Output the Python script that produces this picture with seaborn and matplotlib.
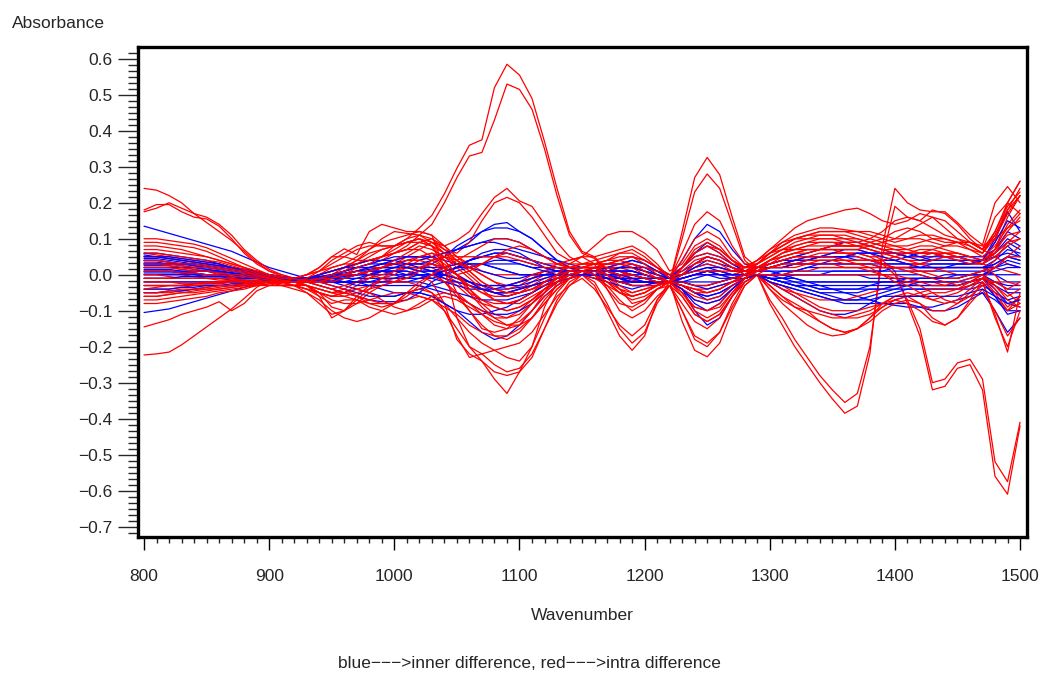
import pandas as pd
import numpy as np
import seaborn as sns
import matplotlib
matplotlib.use("Agg")
import matplotlib.pyplot as plt
from matplotlib.ticker import MultipleLocator, AutoMinorLocator

# Wavenumber grid (every 10 units, 800 .. 1500)
wavenumber = list(range(800, 1501, 10))

# ---- red curves (intra difference) ----
red_01 = [0.04, 0.04, 0.035, 0.03, 0.03, 0.025, 0.02, 0.015, 0.01, 0.0,
          -0.01, -0.02, -0.02, -0.01, 0.0, 0.01, 0.02, 0.03, 0.04, 0.05,
          0.08, 0.1, 0.13, 0.165, 0.225, 0.296, 0.36, 0.375, 0.52, 0.585,
          0.555, 0.49, 0.37, 0.24, 0.12, 0.065, 0.05, 0.012, 0.0, -0.01,
          -0.01, -0.02, -0.02, 0.12, 0.27, 0.326, 0.278, 0.16, 0.05, 0.02,
          0.03, 0.04, 0.05, 0.06, 0.07, 0.08, 0.08, 0.08, 0.07, 0.06,
          0.05, 0.04, 0.04, 0.05, 0.06, 0.06, 0.05, 0.04, 0.09, 0.2,
          0.26]
red_02 = [0.02, 0.02, 0.02, 0.015, 0.01, 0.01, 0.005, 0.0, -0.005, -0.01,
          -0.02, -0.03, -0.03, -0.02, -0.01, 0.0, 0.01, 0.02, 0.03, 0.04,
          0.06, 0.08, 0.11, 0.14, 0.2, 0.27, 0.33, 0.34, 0.43, 0.53,
          0.515, 0.46, 0.35, 0.22, 0.11, 0.06, 0.045, 0.01, -0.005, -0.015,
          -0.02, -0.025, -0.02, 0.1, 0.23, 0.28, 0.24, 0.14, 0.04, 0.01,
          0.02, 0.03, 0.04, 0.05, 0.05, 0.06, 0.06, 0.06, 0.05, 0.05,
          0.04, 0.03, 0.03, 0.04, 0.05, 0.04, 0.04, 0.03, 0.07, 0.16,
          0.22]
red_03 = [-0.02, -0.02, -0.02, -0.02, -0.02, -0.02, -0.02, -0.02, -0.02, -0.02,
          -0.02, -0.02, -0.02, -0.03, -0.04, -0.05, -0.04, -0.02, 0.0, 0.02,
          0.03, 0.03, 0.03, 0.02, 0.0, -0.02, -0.05, -0.07, -0.08, -0.08,
          -0.07, -0.05, -0.03, -0.01, 0.0, 0.01, 0.02, 0.01, 0.0, 0.0,
          -0.01, -0.02, -0.02, -0.02, -0.03, -0.03, -0.02, -0.01, 0.0, 0.0,
          -0.08, -0.14, -0.2, -0.25, -0.3, -0.345, -0.385, -0.365, -0.22, 0.08,
          0.24, 0.2, 0.18, 0.175, 0.175, 0.145, 0.11, 0.083, 0.2, 0.245,
          0.2]
red_04 = [-0.04, -0.04, -0.04, -0.035, -0.03, -0.03, -0.03, -0.03, -0.03, -0.025,
          -0.02, -0.02, -0.03, -0.04, -0.05, -0.06, -0.05, -0.03, -0.01, 0.01,
          0.02, 0.02, 0.02, 0.01, -0.01, -0.03, -0.06, -0.08, -0.09, -0.1,
          -0.09, -0.07, -0.04, -0.02, -0.01, 0.0, 0.01, 0.0, -0.01, -0.02,
          -0.02, -0.02, -0.02, -0.03, -0.04, -0.04, -0.03, -0.02, -0.01, 0.0,
          -0.07, -0.12, -0.18, -0.23, -0.28, -0.32, -0.355, -0.33, -0.2, 0.05,
          0.19, 0.16, 0.15, 0.18, 0.17, 0.14, 0.1, 0.07, 0.16, 0.2,
          0.17]
red_05 = [-0.06, -0.06, -0.055, -0.05, -0.05, -0.045, -0.04, -0.035, -0.03, -0.025,
          -0.02, -0.02, -0.02, -0.03, -0.05, -0.07, -0.08, -0.08, -0.07, -0.06,
          -0.05, -0.05, -0.06, -0.07, -0.09, -0.11, -0.14, -0.16, -0.17, -0.17,
          -0.15, -0.12, -0.08, -0.04, -0.01, 0.0, 0.02, 0.01, -0.01, -0.03,
          -0.03, -0.03, -0.02, -0.01, 0.0, 0.01, 0.0, -0.01, 0.0, 0.02,
          0.04, 0.05, 0.06, 0.07, 0.07, 0.07, 0.07, 0.07, 0.06, 0.04,
          0.01, -0.08, -0.17, -0.32, -0.31, -0.26, -0.25, -0.32, -0.56, -0.61,
          -0.42]
red_06 = [0.0, 0.0, 0.0, 0.0, -0.005, -0.01, -0.01, -0.01, -0.015, -0.02,
          -0.02, -0.03, -0.03, -0.02, -0.01, 0.0, 0.0, 0.01, 0.02, 0.03,
          0.04, 0.05, 0.05, 0.04, 0.02, 0.0, -0.02, -0.04, -0.05, -0.05,
          -0.04, -0.03, -0.02, -0.01, 0.0, 0.01, 0.02, 0.02, 0.01, 0.0,
          -0.01, -0.02, -0.02, -0.01, 0.0, 0.0, 0.0, 0.0, 0.01, 0.02,
          0.03, 0.04, 0.05, 0.05, 0.06, 0.06, 0.06, 0.06, 0.05, 0.03,
          0.0, -0.07, -0.15, -0.3, -0.29, -0.245, -0.235, -0.29, -0.52, -0.575,
          -0.41]
red_07 = [0.24, 0.235, 0.22, 0.2, 0.17, 0.145, 0.12, 0.095, 0.065, 0.035,
          0.01, 0.0, -0.01, -0.01, 0.0, 0.01, 0.02, 0.03, 0.04, 0.05,
          0.06, 0.07, 0.09, 0.1, 0.08, 0.05, 0.03, 0.01, 0.0, 0.0,
          0.0, 0.0, 0.0, 0.01, 0.02, 0.02, 0.03, 0.03, 0.03, 0.02,
          0.01, 0.0, -0.01, 0.0, 0.02, 0.03, 0.02, 0.01, 0.02, 0.03,
          0.05, 0.07, 0.09, 0.1, 0.11, 0.11, 0.11, 0.1, 0.09, 0.08,
          0.07, 0.06, 0.06, 0.07, 0.08, 0.09, 0.09, 0.08, 0.1, 0.13,
          0.15]
red_08 = [0.18, 0.195, 0.195, 0.175, 0.16, 0.155, 0.135, 0.1, 0.06, 0.03,
          0.01, -0.005, -0.01, -0.01, -0.01, 0.0, 0.0, 0.01, 0.02, 0.02,
          0.03, 0.04, 0.05, 0.06, 0.05, 0.03, 0.0, -0.03, -0.05, -0.06,
          -0.05, -0.03, -0.01, 0.0, 0.01, 0.01, 0.02, 0.02, 0.01, -0.01,
          -0.02, -0.02, -0.02, 0.02, 0.07, 0.09, 0.07, 0.04, 0.02, 0.02,
          0.04, 0.06, 0.08, 0.09, 0.1, 0.1, 0.1, 0.09, 0.08, 0.07,
          0.06, 0.05, 0.05, 0.06, 0.06, 0.05, 0.04, 0.03, 0.07, 0.14,
          0.18]
red_09 = [0.175, 0.185, 0.2, 0.185, 0.17, 0.16, 0.14, 0.11, 0.07, 0.04,
          0.015, 0.0, -0.01, -0.015, -0.02, -0.02, -0.01, 0.0, 0.01, 0.02,
          0.03, 0.05, 0.07, 0.09, 0.07, 0.04, 0.01, -0.02, -0.04, -0.05,
          -0.04, -0.02, 0.0, 0.01, 0.01, 0.02, 0.02, 0.02, 0.02, 0.01,
          0.0, -0.01, -0.02, -0.01, 0.0, 0.01, 0.01, 0.0, 0.01, 0.03,
          0.06, 0.08, 0.1, 0.11, 0.12, 0.12, 0.12, 0.12, 0.11, 0.1,
          0.09, 0.1, 0.11, 0.11, 0.1, 0.09, 0.08, 0.06, 0.1, 0.17,
          0.22]
red_10 = [-0.223, -0.22, -0.215, -0.195, -0.17, -0.145, -0.12, -0.095, -0.066, -0.035,
          -0.015, -0.01, -0.01, -0.02, -0.03, -0.04, -0.03, -0.02, -0.01, 0.0,
          0.01, 0.02, 0.02, 0.01, -0.02, -0.06, -0.1, -0.14, -0.17, -0.18,
          -0.16, -0.12, -0.07, -0.03, 0.0, 0.01, 0.01, -0.01, -0.04, -0.06,
          -0.05, -0.03, -0.02, -0.04, -0.07, -0.08, -0.07, -0.04, -0.01, 0.0,
          -0.02, -0.04, -0.05, -0.06, -0.07, -0.07, -0.07, -0.06, -0.05, -0.04,
          -0.03, -0.02, -0.02, -0.02, -0.03, -0.03, -0.02, 0.0, -0.03, -0.07,
          -0.09]
red_11 = [-0.145, -0.135, -0.125, -0.11, -0.1, -0.09, -0.075, -0.1, -0.08, -0.045,
          -0.03, -0.02, -0.02, -0.03, -0.06, -0.12, -0.1, -0.06, -0.03, -0.01,
          0.0, 0.02, 0.04, 0.05, 0.03, 0.0, -0.04, -0.08, -0.11, -0.12,
          -0.1, -0.07, -0.04, -0.02, 0.0, 0.01, 0.0, -0.03, -0.07, -0.1,
          -0.08, -0.04, -0.02, -0.05, -0.1, -0.12, -0.1, -0.05, -0.01, 0.0,
          -0.03, -0.06, -0.09, -0.11, -0.13, -0.15, -0.16, -0.15, -0.12, -0.08,
          -0.06, -0.06, -0.08, -0.12, -0.14, -0.12, -0.08, -0.04, -0.1, -0.17,
          -0.12]
red_12 = [0.06, 0.055, 0.05, 0.045, 0.04, 0.035, 0.03, 0.02, 0.01, 0.0,
          -0.01, -0.02, -0.02, -0.01, 0.0, 0.01, 0.02, 0.04, 0.06, 0.07,
          0.08, 0.1, 0.11, 0.09, 0.08, 0.095, 0.12, 0.17, 0.215, 0.24,
          0.205, 0.19, 0.14, 0.09, 0.05, 0.03, 0.03, 0.04, 0.06, 0.07,
          0.05, 0.02, -0.01, 0.06, 0.14, 0.175, 0.15, 0.08, 0.03, 0.03,
          0.06, 0.09, 0.11, 0.12, 0.13, 0.13, 0.125, 0.12, 0.12, 0.11,
          0.1, 0.12, 0.14, 0.16, 0.15, 0.12, 0.09, 0.07, 0.11, 0.18,
          0.24]
red_13 = [0.09, 0.09, 0.085, 0.08, 0.075, 0.065, 0.05, 0.035, 0.02, 0.005,
          -0.01, -0.015, -0.02, -0.02, -0.01, 0.0, 0.02, 0.04, 0.07, 0.1,
          0.12, 0.115, 0.11, 0.1, 0.07, 0.06, 0.09, 0.15, 0.2, 0.215,
          0.2, 0.16, 0.11, 0.06, 0.04, 0.05, 0.08, 0.11, 0.12, 0.12,
          0.1, 0.07, 0.01, 0.03, 0.08, 0.1, 0.08, 0.04, 0.02, 0.04,
          0.07, 0.1, 0.13, 0.15, 0.16, 0.17, 0.18, 0.185, 0.17, 0.15,
          0.14, 0.15, 0.17, 0.16, 0.13, 0.1, 0.08, 0.06, 0.12, 0.2,
          0.26]
red_14 = [-0.07, -0.07, -0.065, -0.06, -0.055, -0.05, -0.045, -0.04, -0.035, -0.03,
          -0.025, -0.02, -0.02, -0.03, -0.05, -0.06, -0.05, -0.04, -0.03, -0.02,
          -0.01, 0.0, 0.0, -0.02, -0.08, -0.18, -0.22, -0.24, -0.29, -0.33,
          -0.27, -0.2, -0.09, -0.02, 0.01, 0.02, 0.02, 0.0, -0.04, -0.08,
          -0.07, -0.04, -0.03, -0.1, -0.18, -0.2, -0.16, -0.08, -0.02, 0.0,
          -0.04, -0.07, -0.09, -0.1, -0.11, -0.12, -0.12, -0.11, -0.1, -0.08,
          -0.06, -0.05, -0.06, -0.07, -0.06, -0.05, -0.03, -0.01, -0.06, -0.1,
          -0.08]
red_15 = [-0.05, -0.05, -0.05, -0.045, -0.04, -0.04, -0.035, -0.03, -0.03, -0.025,
          -0.02, -0.02, -0.02, -0.02, -0.03, -0.04, -0.05, -0.06, -0.07, -0.08,
          -0.08, -0.07, -0.06, -0.07, -0.1, -0.15, -0.2, -0.24, -0.27, -0.28,
          -0.27, -0.23, -0.15, -0.07, -0.02, 0.0, -0.03, -0.1, -0.17, -0.21,
          -0.17, -0.07, -0.02, -0.13, -0.21, -0.228, -0.19, -0.1, -0.03, 0.0,
          -0.03, -0.06, -0.08, -0.1, -0.13, -0.15, -0.16, -0.15, -0.13, -0.1,
          -0.08, -0.07, -0.08, -0.1, -0.1, -0.08, -0.05, -0.02, -0.12, -0.2,
          -0.1]
red_16 = [0.03, 0.03, 0.025, 0.02, 0.015, 0.01, 0.0, -0.01, -0.02, -0.025,
          -0.03, -0.03, -0.03, -0.03, -0.05, -0.09, -0.1, -0.08, -0.05, -0.03,
          -0.02, -0.02, -0.03, -0.05, -0.1, -0.17, -0.23, -0.22, -0.25, -0.27,
          -0.26, -0.22, -0.15, -0.08, -0.03, 0.0, -0.02, -0.08, -0.15, -0.19,
          -0.16, -0.08, -0.03, -0.1, -0.17, -0.19, -0.16, -0.09, -0.03, 0.0,
          -0.02, -0.03, -0.05, -0.07, -0.09, -0.1, -0.1, -0.1, -0.09, -0.08,
          -0.07, -0.08, -0.1, -0.13, -0.14, -0.12, -0.07, -0.02, -0.11, -0.215,
          -0.05]
red_17 = [-0.03, -0.03, -0.03, -0.03, -0.03, -0.03, -0.03, -0.03, -0.03, -0.03,
          -0.03, -0.03, -0.04, -0.05, -0.07, -0.1, -0.12, -0.13, -0.12, -0.1,
          -0.08, -0.05, -0.04, -0.05, -0.08, -0.12, -0.16, -0.19, -0.21, -0.2,
          -0.19, -0.16, -0.11, -0.06, -0.03, -0.01, -0.04, -0.09, -0.14, -0.17,
          -0.14, -0.07, -0.03, -0.06, -0.11, -0.13, -0.11, -0.06, -0.02, 0.0,
          0.0, 0.0, 0.01, 0.01, 0.02, 0.02, 0.02, 0.02, 0.02, 0.02,
          0.02, 0.02, 0.01, 0.01, 0.02, 0.02, 0.02, 0.02, 0.0, -0.05,
          -0.08]
red_18 = [0.05, 0.05, 0.045, 0.04, 0.035, 0.03, 0.025, 0.02, 0.015, 0.01,
          0.0, -0.01, -0.01, 0.0, 0.02, 0.05, 0.072, 0.056, 0.12, 0.14,
          0.13, 0.12, 0.12, 0.11, 0.08, 0.05, 0.02, 0.0, -0.02, -0.03,
          -0.02, 0.0, 0.01, 0.02, 0.02, 0.02, 0.02, 0.03, 0.04, 0.05,
          0.04, 0.02, 0.0, 0.02, 0.05, 0.06, 0.05, 0.03, 0.02, 0.03,
          0.06, 0.08, 0.1, 0.1, 0.1, 0.1, 0.09, 0.09, 0.1, 0.12,
          0.15, 0.16, 0.15, 0.13, 0.11, 0.1, 0.09, 0.07, 0.05, 0.03,
          0.02]
red_19 = [0.0, 0.0, -0.005, -0.01, -0.01, -0.01, -0.01, -0.01, -0.015, -0.02,
          -0.02, -0.02, -0.01, 0.0, 0.01, 0.02, 0.03, 0.05, 0.07, 0.09,
          0.1, 0.11, 0.12, 0.11, 0.02, -0.12, -0.2, -0.22, -0.21, -0.23,
          -0.24, -0.2, -0.12, -0.05, -0.01, 0.01, 0.0, -0.02, -0.05, -0.07,
          -0.06, -0.04, -0.02, -0.05, -0.09, -0.1, -0.08, -0.04, -0.01, 0.0,
          0.02, 0.03, 0.04, 0.04, 0.04, 0.04, 0.04, 0.04, 0.04, 0.04,
          0.05, 0.06, 0.06, 0.06, 0.05, 0.04, 0.03, 0.03, 0.02, 0.01,
          0.0]
red_20 = [0.07, 0.07, 0.065, 0.06, 0.055, 0.05, 0.04, 0.03, 0.02, 0.01,
          0.0, -0.01, -0.01, -0.01, 0.0, 0.02, 0.03, 0.03, 0.04, 0.05,
          0.06, 0.07, 0.09, 0.08, 0.06, 0.04, 0.02, 0.0, -0.02, -0.04,
          -0.03, -0.01, 0.01, 0.03, 0.04, 0.05, 0.05, 0.06, 0.07, 0.08,
          0.06, 0.03, -0.01, 0.04, 0.1, 0.12, 0.1, 0.05, 0.02, 0.03,
          0.05, 0.07, 0.08, 0.09, 0.09, 0.09, 0.08, 0.08, 0.07, 0.06,
          0.05, 0.04, 0.03, 0.02, 0.01, 0.0, 0.0, 0.01, 0.04, 0.09,
          0.12]
red_21 = [-0.08, -0.08, -0.075, -0.07, -0.065, -0.06, -0.05, -0.045, -0.04, -0.03,
          -0.025, -0.02, -0.02, -0.03, -0.04, -0.05, -0.05, -0.04, -0.05, -0.07,
          -0.09, -0.1, -0.09, -0.07, -0.06, -0.07, -0.09, -0.11, -0.13, -0.14,
          -0.13, -0.1, -0.06, -0.03, -0.01, 0.0, -0.01, -0.03, -0.05, -0.06,
          -0.05, -0.03, -0.02, -0.04, -0.06, -0.07, -0.06, -0.03, -0.01, 0.0,
          -0.04, -0.08, -0.11, -0.14, -0.16, -0.17, -0.165, -0.15, -0.12, -0.09,
          -0.07, -0.06, -0.06, -0.05, -0.05, -0.04, -0.02, 0.0, -0.04, -0.09,
          -0.06]
red_22 = [0.02, 0.02, 0.02, 0.015, 0.01, 0.01, 0.005, 0.0, 0.0, -0.005,
          -0.01, -0.015, -0.02, -0.02, -0.02, -0.01, 0.0, 0.0, 0.01, 0.02,
          0.04, 0.06, 0.08, 0.07, 0.05, 0.02, -0.01, -0.04, -0.07, -0.08,
          -0.07, -0.05, -0.02, 0.0, 0.01, 0.02, 0.03, 0.02, 0.01, 0.0,
          -0.01, -0.02, -0.02, -0.03, -0.05, -0.05, -0.04, -0.02, 0.0, 0.02,
          0.04, 0.05, 0.06, 0.07, 0.07, 0.08, 0.08, 0.08, 0.09, 0.1,
          0.12, 0.13, 0.12, 0.1, 0.09, 0.09, 0.09, 0.07, 0.12, 0.19,
          0.23]
red_23 = [-0.04, -0.035, -0.03, -0.03, -0.025, -0.02, -0.02, -0.015, -0.015, -0.015,
          -0.02, -0.025, -0.03, -0.04, -0.05, -0.06, -0.06, -0.05, -0.04, -0.03,
          -0.02, 0.0, 0.02, 0.03, 0.02, 0.0, -0.03, -0.05, -0.07, -0.08,
          -0.08, -0.06, -0.04, -0.02, 0.0, 0.01, 0.0, -0.02, -0.04, -0.05,
          -0.04, -0.03, -0.02, -0.03, -0.04, -0.05, -0.04, -0.02, -0.01, 0.0,
          -0.02, -0.04, -0.06, -0.08, -0.1, -0.11, -0.12, -0.12, -0.11, -0.09,
          -0.07, -0.06, -0.05, -0.04, -0.04, -0.04, -0.03, -0.01, -0.05, -0.1,
          -0.06]
red_24 = [0.06, 0.06, 0.055, 0.05, 0.045, 0.04, 0.035, 0.025, 0.015, 0.005,
          -0.005, -0.015, -0.02, -0.015, -0.01, -0.01, 0.0, 0.02, 0.03, 0.05,
          0.07, 0.09, 0.1, 0.08, 0.04, 0.0, -0.04, -0.07, -0.09, -0.1,
          -0.09, -0.07, -0.04, -0.01, 0.01, 0.02, 0.02, 0.0, -0.03, -0.05,
          -0.04, -0.03, -0.02, -0.05, -0.09, -0.1, -0.09, -0.05, -0.01, 0.01,
          0.02, 0.03, 0.03, 0.03, 0.04, 0.04, 0.03, 0.03, 0.03, 0.02,
          0.02, 0.01, 0.01, 0.0, -0.01, -0.01, 0.0, 0.01, 0.02, 0.05,
          0.08]
red_25 = [-0.01, -0.01, -0.01, -0.01, -0.01, -0.01, -0.015, -0.015, -0.02, -0.02,
          -0.02, -0.02, -0.02, -0.02, -0.02, -0.01, 0.0, 0.01, 0.0, -0.01,
          -0.02, -0.01, 0.01, 0.04, 0.05, 0.04, 0.01, -0.02, -0.04, -0.05,
          -0.05, -0.04, -0.03, -0.01, 0.0, 0.01, 0.02, 0.03, 0.03, 0.02,
          0.0, -0.01, -0.02, 0.0, 0.03, 0.04, 0.03, 0.01, 0.01, 0.02,
          0.03, 0.05, 0.06, 0.06, 0.07, 0.07, 0.06, 0.05, 0.04, 0.03,
          0.02, 0.02, 0.03, 0.04, 0.05, 0.05, 0.04, 0.03, 0.06, 0.12,
          0.16]
red_26 = [-0.06, -0.06, -0.055, -0.05, -0.045, -0.04, -0.04, -0.035, -0.03, -0.025,
          -0.02, -0.02, -0.02, -0.02, -0.02, -0.03, -0.04, -0.06, -0.08, -0.09,
          -0.08, -0.05, -0.02, 0.0, -0.02, -0.05, -0.08, -0.11, -0.14, -0.15,
          -0.14, -0.1, -0.05, 0.0, 0.03, 0.05, 0.03, -0.04, -0.1, -0.12,
          -0.1, -0.06, -0.03, -0.08, -0.13, -0.15, -0.12, -0.06, -0.01, 0.01,
          0.04, 0.06, 0.07, 0.08, 0.08, 0.08, 0.08, 0.08, 0.07, 0.06,
          0.06, 0.06, 0.07, 0.07, 0.06, 0.05, 0.04, 0.03, 0.05, 0.08,
          0.1]
red_27 = [0.1, 0.1, 0.095, 0.09, 0.085, 0.075, 0.06, 0.045, 0.03, 0.015,
          0.0, -0.01, -0.01, 0.0, 0.01, 0.03, 0.05, 0.07, 0.08, 0.08,
          0.08, 0.09, 0.1, 0.09, 0.06, 0.03, 0.02, 0.03, 0.05, 0.07,
          0.08, 0.07, 0.05, 0.03, 0.02, 0.02, 0.03, 0.04, 0.05, 0.05,
          0.03, 0.0, -0.02, 0.02, 0.06, 0.08, 0.06, 0.03, 0.02, 0.04,
          0.07, 0.09, 0.1, 0.11, 0.11, 0.11, 0.1, 0.1, 0.09, 0.08,
          0.08, 0.08, 0.09, 0.1, 0.1, 0.09, 0.07, 0.05, 0.08, 0.13,
          0.17]
red_28 = [-0.02, -0.02, -0.02, -0.025, -0.025, -0.025, -0.025, -0.02, -0.02, -0.02,
          -0.02, -0.02, -0.03, -0.04, -0.06, -0.08, -0.07, -0.07, -0.09, -0.1,
          -0.11, -0.1, -0.08, -0.06, -0.05, -0.06, -0.08, -0.1, -0.12, -0.12,
          -0.11, -0.08, -0.05, -0.02, 0.0, 0.01, 0.01, 0.0, -0.02, -0.03,
          -0.03, -0.03, -0.02, -0.02, -0.03, -0.03, -0.02, -0.01, 0.0, 0.01,
          0.02, 0.02, 0.02, 0.03, 0.03, 0.03, 0.02, 0.02, 0.01, 0.0,
          -0.01, -0.02, -0.03, -0.05, -0.07, -0.08, -0.06, -0.03, -0.02, -0.02,
          -0.03]
red_29 = [0.03, 0.03, 0.03, 0.025, 0.02, 0.02, 0.015, 0.01, 0.005, 0.0,
          -0.01, -0.02, -0.02, -0.02, -0.01, 0.0, 0.01, 0.03, 0.05, 0.07,
          0.08, 0.09, 0.09, 0.08, 0.06, 0.05, 0.05, 0.05, 0.05, 0.05,
          0.04, 0.03, 0.02, 0.02, 0.02, 0.03, 0.03, 0.04, 0.04, 0.03,
          0.01, -0.01, -0.02, -0.03, -0.04, -0.05, -0.04, -0.02, 0.0, 0.03,
          0.06, 0.08, 0.1, 0.11, 0.12, 0.12, 0.12, 0.11, 0.1, 0.09,
          0.08, 0.07, 0.06, 0.06, 0.06, 0.06, 0.05, 0.04, 0.06, 0.09,
          0.1]
red_30 = [-0.05, -0.05, -0.045, -0.04, -0.04, -0.035, -0.03, -0.03, -0.025, -0.02,
          -0.02, -0.02, -0.03, -0.05, -0.08, -0.11, -0.1, -0.07, -0.04, -0.01,
          0.01, 0.03, 0.05, 0.06, 0.04, 0.0, -0.05, -0.09, -0.12, -0.14,
          -0.14, -0.12, -0.08, -0.04, -0.01, 0.01, 0.0, -0.02, -0.05, -0.06,
          -0.05, -0.03, -0.02, 0.0, 0.03, 0.05, 0.04, 0.02, 0.0, 0.0,
          0.0, 0.0, 0.0, 0.0, 0.0, 0.0, 0.0, 0.0, 0.0, 0.0,
          0.0, -0.01, -0.02, -0.03, -0.03, -0.02, -0.01, 0.0, -0.03, -0.06,
          -0.04]
red_31 = [0.04, 0.04, 0.035, 0.03, 0.03, 0.025, 0.02, 0.015, 0.01, 0.0,
          -0.01, -0.02, -0.02, -0.01, 0.01, 0.04, 0.06, 0.08, 0.09, 0.08,
          0.08, 0.09, 0.1, 0.08, 0.02, -0.05, -0.1, -0.15, -0.16, -0.15,
          -0.12, -0.08, -0.04, -0.01, 0.01, 0.02, 0.02, 0.01, 0.0, 0.0,
          -0.01, -0.02, -0.02, -0.06, -0.11, -0.13, -0.11, -0.06, -0.01, 0.02,
          0.04, 0.06, 0.07, 0.08, 0.09, 0.09, 0.09, 0.08, 0.08, 0.07,
          0.07, 0.07, 0.08, 0.08, 0.07, 0.06, 0.05, 0.04, 0.07, 0.11,
          0.12]
red_32 = [-0.03, -0.03, -0.03, -0.03, -0.025, -0.025, -0.02, -0.02, -0.02, -0.02,
          -0.02, -0.02, -0.02, -0.03, -0.04, -0.05, -0.06, -0.07, -0.08, -0.08,
          -0.08, -0.06, -0.03, 0.0, 0.02, 0.04, 0.06, 0.08, 0.1, 0.1,
          0.09, 0.07, 0.05, 0.03, 0.02, 0.03, 0.04, 0.05, 0.06, 0.06,
          0.04, 0.02, -0.01, 0.01, 0.04, 0.05, 0.04, 0.02, 0.01, 0.01,
          0.02, 0.03, 0.03, 0.04, 0.04, 0.04, 0.04, 0.04, 0.04, 0.03,
          0.02, 0.01, 0.0, -0.01, -0.02, -0.03, -0.02, -0.01, -0.02, -0.04,
          -0.02]
red_33 = [0.01, 0.01, 0.01, 0.005, 0.005, 0.0, 0.0, -0.005, -0.005, -0.01,
          -0.015, -0.02, -0.02, -0.02, -0.02, -0.02, -0.01, 0.0, 0.01, 0.02,
          0.03, 0.04, 0.04, 0.03, 0.01, -0.01, -0.03, -0.05, -0.06, -0.06,
          -0.05, -0.04, -0.02, 0.0, 0.01, 0.01, 0.0, -0.04, -0.08, -0.09,
          -0.07, -0.04, -0.02, 0.02, 0.06, 0.08, 0.07, 0.04, 0.01, 0.01,
          0.03, 0.04, 0.05, 0.05, 0.05, 0.05, 0.04, 0.03, 0.02, 0.0,
          -0.02, -0.03, -0.05, -0.07, -0.08, -0.07, -0.04, -0.01, 0.02, 0.05,
          0.05]
red_34 = [0.08, 0.08, 0.075, 0.07, 0.06, 0.05, 0.04, 0.03, 0.02, 0.01,
          0.0, -0.005, -0.01, 0.0, 0.02, 0.05, 0.05, 0.04, 0.04, 0.05,
          0.06, 0.07, 0.07, 0.05, 0.02, 0.0, 0.01, 0.03, 0.05, 0.06,
          0.05, 0.04, 0.03, 0.03, 0.03, 0.03, 0.03, 0.03, 0.03, 0.03,
          0.02, 0.01, 0.0, 0.0, 0.01, 0.01, 0.01, 0.01, 0.02, 0.04,
          0.06, 0.07, 0.07, 0.07, 0.07, 0.07, 0.07, 0.07, 0.08, 0.09,
          0.1, 0.1, 0.1, 0.09, 0.08, 0.08, 0.07, 0.06, 0.11, 0.18,
          0.22]

# ---- blue curves (inner difference) ----
blue_01 = [0.135, 0.125, 0.115, 0.105, 0.095, 0.085, 0.075, 0.065, 0.05, 0.035,
           0.02, 0.01, 0.0, -0.01, -0.01, -0.01, 0.0, 0.0, 0.01, 0.02,
           0.03, 0.03, 0.03, 0.04, 0.05, 0.07, 0.09, 0.12, 0.14, 0.145,
           0.12, 0.1, 0.07, 0.04, 0.02, 0.01, 0.01, 0.02, 0.03, 0.04,
           0.03, 0.01, -0.01, 0.04, 0.1, 0.14, 0.12, 0.07, 0.03, 0.02,
           0.02, 0.02, 0.03, 0.03, 0.03, 0.03, 0.03, 0.03, 0.03, 0.03,
           0.03, 0.03, 0.03, 0.03, 0.03, 0.03, 0.03, 0.04, 0.1, 0.175,
           0.12]
blue_02 = [-0.105, -0.1, -0.095, -0.085, -0.075, -0.065, -0.055, -0.045, -0.035, -0.025,
           -0.02, -0.015, -0.01, -0.01, -0.01, -0.02, -0.03, -0.04, -0.05, -0.06,
           -0.06, -0.05, -0.04, -0.03, -0.02, -0.02, -0.03, -0.04, -0.05, -0.05,
           -0.04, -0.03, -0.02, -0.01, 0.0, 0.0, 0.0, -0.01, -0.02, -0.02,
           -0.02, -0.02, -0.02, -0.04, -0.1, -0.14, -0.12, -0.06, -0.02, 0.0,
           -0.02, -0.03, -0.04, -0.05, -0.06, -0.07, -0.08, -0.08, -0.08, -0.08,
           -0.08, -0.08, -0.09, -0.1, -0.1, -0.09, -0.07, -0.05, -0.1, -0.16,
           -0.12]
blue_03 = [0.05, 0.05, 0.045, 0.04, 0.035, 0.03, 0.025, 0.02, 0.01, 0.005,
           0.0, -0.005, -0.01, -0.01, 0.0, 0.01, 0.02, 0.02, 0.02, 0.02,
           0.02, 0.02, 0.02, 0.03, 0.05, 0.08, 0.1, 0.12, 0.13, 0.13,
           0.12, 0.1, 0.07, 0.04, 0.02, 0.01, 0.0, 0.01, 0.02, 0.03,
           0.02, 0.0, -0.01, 0.02, 0.06, 0.09, 0.07, 0.04, 0.02, 0.02,
           0.03, 0.04, 0.05, 0.06, 0.07, 0.08, 0.09, 0.09, 0.08, 0.07,
           0.06, 0.05, 0.05, 0.05, 0.05, 0.05, 0.05, 0.05, 0.07, 0.12,
           0.1]
blue_04 = [0.01, 0.01, 0.01, 0.01, 0.005, 0.0, 0.0, -0.005, -0.01, -0.01,
           -0.015, -0.02, -0.02, -0.02, -0.02, -0.02, -0.02, -0.02, -0.03, -0.04,
           -0.05, -0.05, -0.05, -0.06, -0.08, -0.1, -0.13, -0.16, -0.18, -0.17,
           -0.14, -0.1, -0.06, -0.03, -0.01, 0.0, 0.0, -0.01, -0.02, -0.03,
           -0.03, -0.02, -0.02, -0.04, -0.08, -0.1, -0.08, -0.04, -0.01, 0.0,
           -0.01, -0.02, -0.03, -0.04, -0.05, -0.06, -0.07, -0.07, -0.06, -0.05,
           -0.04, -0.03, -0.03, -0.03, -0.03, -0.03, -0.02, -0.01, -0.04, -0.08,
           -0.09]
blue_05 = [0.03, 0.03, 0.03, 0.025, 0.02, 0.015, 0.01, 0.005, 0.0, -0.005,
           -0.01, -0.015, -0.02, -0.02, -0.03, -0.04, -0.05, -0.06, -0.07, -0.075,
           -0.075, -0.07, -0.05, -0.02, 0.0, 0.02, 0.04, 0.05, 0.06, 0.06,
           0.05, 0.04, 0.03, 0.02, 0.01, 0.01, 0.01, 0.01, 0.01, 0.0,
           -0.01, -0.02, -0.02, -0.02, -0.02, -0.02, -0.02, -0.01, 0.0, 0.01,
           0.01, 0.0, -0.01, -0.02, -0.03, -0.04, -0.05, -0.06, -0.07, -0.08,
           -0.085, -0.09, -0.09, -0.09, -0.08, -0.07, -0.06, -0.05, -0.07, -0.1,
           -0.1]
blue_06 = [0.045, 0.045, 0.04, 0.035, 0.03, 0.025, 0.02, 0.015, 0.01, 0.005,
           0.0, -0.005, -0.01, -0.01, -0.005, 0.0, 0.005, 0.01, 0.015, 0.02,
           0.02, 0.02, 0.02, 0.02, 0.02, 0.03, 0.04, 0.05, 0.06, 0.06,
           0.05, 0.04, 0.03, 0.02, 0.01, 0.01, 0.01, 0.02, 0.02, 0.02,
           0.01, 0.0, -0.01, 0.0, 0.02, 0.03, 0.02, 0.01, 0.01, 0.01,
           0.01, 0.01, 0.01, 0.01, 0.01, 0.01, 0.01, 0.01, 0.01, 0.01,
           0.01, 0.01, 0.01, 0.01, 0.01, 0.01, 0.01, 0.01, 0.03, 0.05,
           0.04]
blue_07 = [0.02, 0.02, 0.02, 0.02, 0.015, 0.01, 0.01, 0.005, 0.0, 0.0,
           -0.005, -0.01, -0.01, -0.01, -0.01, -0.01, -0.01, -0.01, -0.01, -0.01,
           -0.01, -0.01, 0.0, 0.0, 0.0, -0.01, -0.02, -0.03, -0.04, -0.04,
           -0.035, -0.03, -0.02, -0.01, 0.0, 0.0, 0.0, 0.0, 0.0, 0.0,
           -0.01, -0.01, -0.02, -0.02, -0.03, -0.04, -0.03, -0.02, -0.01, 0.0,
           0.0, -0.01, -0.01, -0.02, -0.02, -0.02, -0.02, -0.02, -0.02, -0.02,
           -0.02, -0.02, -0.02, -0.02, -0.02, -0.02, -0.01, 0.0, -0.02, -0.04,
           -0.04]
blue_08 = [-0.02, -0.02, -0.02, -0.02, -0.02, -0.02, -0.02, -0.02, -0.02, -0.02,
           -0.02, -0.02, -0.02, -0.02, -0.015, -0.01, -0.005, 0.0, 0.0, 0.0,
           0.0, 0.0, 0.01, 0.01, 0.02, 0.03, 0.03, 0.03, 0.02, 0.01,
           0.0, 0.0, 0.0, 0.0, 0.0, 0.0, 0.0, 0.0, 0.0, 0.0,
           -0.01, -0.01, -0.01, 0.0, 0.01, 0.02, 0.01, 0.0, 0.0, 0.0,
           0.0, 0.01, 0.01, 0.02, 0.02, 0.02, 0.02, 0.02, 0.02, 0.02,
           0.02, 0.02, 0.02, 0.02, 0.02, 0.02, 0.02, 0.02, 0.04, 0.07,
           0.06]
blue_09 = [0.0, 0.0, 0.0, 0.0, 0.0, -0.005, -0.005, -0.01, -0.01, -0.01,
           -0.015, -0.015, -0.015, -0.015, -0.015, -0.015, -0.02, -0.02, -0.02, -0.02,
           -0.02, -0.02, -0.02, -0.03, -0.04, -0.05, -0.06, -0.07, -0.07, -0.07,
           -0.06, -0.05, -0.03, -0.02, -0.01, 0.0, 0.0, 0.0, -0.01, -0.01,
           -0.02, -0.02, -0.02, -0.01, 0.0, 0.01, 0.0, -0.01, -0.01, 0.0,
           -0.01, -0.02, -0.03, -0.03, -0.04, -0.04, -0.04, -0.04, -0.04, -0.04,
           -0.04, -0.04, -0.04, -0.04, -0.04, -0.04, -0.04, -0.03, -0.05, -0.07,
           -0.06]
blue_10 = [0.035, 0.035, 0.03, 0.03, 0.025, 0.02, 0.015, 0.01, 0.005, 0.0,
           -0.005, -0.01, -0.015, -0.015, -0.01, -0.005, 0.0, 0.01, 0.02, 0.03,
           0.04, 0.05, 0.05, 0.05, 0.04, 0.03, 0.02, 0.01, 0.0, -0.01,
           -0.01, 0.0, 0.01, 0.01, 0.01, 0.01, 0.01, 0.02, 0.03, 0.04,
           0.03, 0.01, -0.01, 0.0, 0.02, 0.04, 0.03, 0.02, 0.01, 0.02,
           0.03, 0.04, 0.04, 0.05, 0.05, 0.05, 0.05, 0.05, 0.04, 0.04,
           0.04, 0.05, 0.06, 0.06, 0.05, 0.05, 0.04, 0.04, 0.06, 0.1,
           0.08]
blue_11 = [0.01, 0.01, 0.01, 0.005, 0.005, 0.0, 0.0, 0.0, -0.005, -0.005,
           -0.01, -0.01, -0.01, -0.01, -0.01, 0.0, 0.0, 0.01, 0.01, 0.01,
           0.0, -0.01, -0.01, -0.01, 0.0, 0.01, 0.02, 0.03, 0.04, 0.04,
           0.04, 0.03, 0.02, 0.01, 0.0, 0.0, 0.0, -0.01, -0.01, -0.02,
           -0.02, -0.02, -0.02, -0.03, -0.05, -0.06, -0.05, -0.03, -0.01, 0.0,
           -0.01, -0.01, 0.0, 0.0, 0.0, 0.0, 0.0, 0.0, 0.0, 0.0,
           0.0, 0.0, 0.0, -0.01, -0.01, -0.01, 0.0, 0.0, 0.0, 0.0,
           0.0]
blue_12 = [0.025, 0.025, 0.025, 0.02, 0.02, 0.015, 0.01, 0.005, 0.0, -0.005,
           -0.01, -0.015, -0.02, -0.02, -0.02, -0.02, -0.02, -0.01, 0.0, 0.01,
           0.02, 0.03, 0.03, 0.03, 0.02, 0.0, -0.02, -0.04, -0.05, -0.06,
           -0.05, -0.04, -0.02, 0.0, 0.01, 0.01, 0.01, 0.01, 0.01, 0.0,
           0.0, -0.01, -0.02, -0.01, 0.0, 0.01, 0.01, 0.0, 0.0, 0.0,
           -0.01, -0.02, -0.02, -0.03, -0.03, -0.03, -0.03, -0.03, -0.03, -0.02,
           -0.02, -0.02, -0.01, -0.01, -0.01, -0.01, 0.0, 0.01, 0.0, -0.02,
           -0.02]
blue_13 = [-0.03, -0.03, -0.03, -0.03, -0.025, -0.025, -0.025, -0.02, -0.02, -0.02,
           -0.02, -0.02, -0.02, -0.02, -0.02, -0.02, -0.01, 0.0, 0.01, 0.02,
           0.02, 0.02, 0.01, 0.0, -0.01, -0.02, -0.03, -0.04, -0.05, -0.05,
           -0.04, -0.03, -0.02, -0.01, 0.0, 0.0, 0.0, 0.0, -0.01, -0.02,
           -0.02, -0.02, -0.02, 0.0, 0.03, 0.05, 0.04, 0.02, 0.0, 0.0,
           0.0, 0.0, 0.01, 0.02, 0.03, 0.04, 0.05, 0.06, 0.06, 0.06,
           0.06, 0.06, 0.05, 0.04, 0.04, 0.04, 0.03, 0.03, 0.05, 0.08,
           0.05]
blue_14 = [0.055, 0.05, 0.05, 0.045, 0.04, 0.035, 0.03, 0.02, 0.01, 0.0,
           -0.01, -0.015, -0.02, -0.015, -0.01, 0.0, 0.01, 0.02, 0.03, 0.04,
           0.05, 0.05, 0.05, 0.05, 0.06, 0.07, 0.08, 0.09, 0.09, 0.08,
           0.07, 0.06, 0.05, 0.04, 0.03, 0.02, 0.02, 0.03, 0.04, 0.05,
           0.04, 0.02, 0.0, 0.01, 0.03, 0.05, 0.04, 0.02, 0.01, 0.01,
           0.02, 0.02, 0.03, 0.04, 0.05, 0.06, 0.07, 0.07, 0.06, 0.05,
           0.04, 0.03, 0.02, 0.02, 0.02, 0.03, 0.03, 0.04, 0.06, 0.09,
           0.07]
blue_15 = [-0.01, -0.01, -0.01, -0.01, -0.01, -0.01, -0.01, -0.015, -0.015, -0.015,
           -0.015, -0.015, -0.015, -0.02, -0.02, -0.02, -0.02, -0.02, -0.02, -0.02,
           -0.02, -0.02, -0.01, 0.0, 0.0, -0.01, -0.02, -0.03, -0.03, -0.03,
           -0.02, -0.01, 0.0, 0.0, 0.0, 0.0, 0.0, -0.01, -0.02, -0.03,
           -0.03, -0.03, -0.02, -0.03, -0.05, -0.07, -0.06, -0.03, -0.01, 0.0,
           -0.02, -0.04, -0.06, -0.08, -0.1, -0.11, -0.11, -0.1, -0.08, -0.06,
           -0.05, -0.04, -0.04, -0.04, -0.04, -0.04, -0.03, -0.02, -0.06, -0.11,
           -0.1]
blue_16 = [0.04, 0.04, 0.035, 0.03, 0.03, 0.025, 0.02, 0.015, 0.01, 0.005,
           0.0, -0.005, -0.01, -0.01, -0.01, -0.01, 0.0, 0.0, 0.01, 0.01,
           0.01, 0.0, 0.0, 0.0, 0.01, 0.02, 0.03, 0.03, 0.02, 0.01,
           0.0, 0.0, 0.0, 0.0, 0.0, 0.0, 0.01, 0.01, 0.01, 0.01,
           0.0, -0.01, -0.02, -0.01, 0.0, 0.01, 0.0, 0.0, 0.0, 0.0,
           0.0, 0.0, 0.0, 0.0, 0.0, 0.0, 0.0, 0.0, -0.01, -0.01,
           -0.01, -0.01, -0.01, -0.01, -0.01, 0.0, 0.0, 0.0, 0.02, 0.04,
           0.03]
blue_17 = [0.06, 0.06, 0.055, 0.05, 0.045, 0.04, 0.03, 0.02, 0.01, 0.0,
           -0.01, -0.015, -0.02, -0.02, -0.01, 0.0, 0.01, 0.02, 0.02, 0.03,
           0.03, 0.04, 0.04, 0.05, 0.06, 0.07, 0.08, 0.09, 0.1, 0.1,
           0.09, 0.07, 0.05, 0.03, 0.02, 0.01, 0.01, 0.01, 0.02, 0.02,
           0.01, 0.0, -0.01, 0.02, 0.05, 0.06, 0.05, 0.03, 0.01, 0.0,
           0.0, 0.0, 0.0, 0.0, 0.0, 0.01, 0.01, 0.01, 0.01, 0.01,
           0.02, 0.02, 0.02, 0.03, 0.03, 0.03, 0.03, 0.04, 0.09, 0.15,
           0.13]
blue_18 = [-0.04, -0.04, -0.04, -0.035, -0.035, -0.03, -0.03, -0.025, -0.025, -0.02,
           -0.02, -0.02, -0.02, -0.02, -0.02, -0.03, -0.04, -0.05, -0.06, -0.06,
           -0.06, -0.05, -0.05, -0.06, -0.08, -0.1, -0.11, -0.11, -0.1, -0.09,
           -0.07, -0.05, -0.03, -0.01, 0.0, 0.0, -0.01, -0.02, -0.03, -0.04,
           -0.03, -0.02, -0.02, -0.02, -0.01, 0.0, -0.01, -0.01, 0.0, 0.0,
           -0.01, -0.02, -0.03, -0.04, -0.05, -0.05, -0.05, -0.05, -0.04, -0.04,
           -0.03, -0.03, -0.02, -0.02, -0.02, -0.02, -0.02, -0.01, -0.02, -0.03,
           -0.03]
blue_19 = [0.015, 0.015, 0.015, 0.01, 0.01, 0.01, 0.005, 0.005, 0.0, 0.0,
           -0.005, -0.01, -0.01, -0.01, -0.005, 0.0, 0.01, 0.02, 0.03, 0.03,
           0.03, 0.02, 0.01, 0.01, 0.01, 0.02, 0.02, 0.03, 0.03, 0.03,
           0.03, 0.02, 0.02, 0.01, 0.01, 0.01, 0.01, 0.01, 0.02, 0.02,
           0.02, 0.01, 0.0, 0.0, 0.01, 0.02, 0.02, 0.01, 0.01, 0.01,
           0.02, 0.03, 0.04, 0.04, 0.05, 0.05, 0.05, 0.06, 0.06, 0.06,
           0.06, 0.05, 0.04, 0.04, 0.04, 0.04, 0.04, 0.04, 0.05, 0.06,
           0.05]
blue_20 = [-0.01, -0.01, -0.01, -0.005, -0.005, -0.005, -0.005, -0.005, -0.005, -0.01,
           -0.01, -0.01, -0.01, -0.01, -0.01, -0.01, -0.02, -0.03, -0.03, -0.03,
           -0.03, -0.03, -0.03, -0.04, -0.05, -0.06, -0.08, -0.1, -0.11, -0.11,
           -0.1, -0.08, -0.05, -0.02, 0.0, 0.0, -0.01, -0.01, -0.02, -0.02,
           -0.02, -0.02, -0.02, -0.03, -0.05, -0.06, -0.05, -0.03, -0.01, 0.0,
           -0.01, -0.02, -0.03, -0.03, -0.04, -0.04, -0.04, -0.04, -0.03, -0.03,
           -0.03, -0.03, -0.03, -0.03, -0.03, -0.03, -0.02, -0.01, -0.03, -0.05,
           -0.05]
blue_21 = [0.03, 0.03, 0.03, 0.03, 0.025, 0.02, 0.015, 0.01, 0.005, 0.0,
           -0.005, -0.01, -0.01, -0.01, -0.01, -0.01, 0.0, 0.0, 0.0, 0.01,
           0.01, 0.01, 0.0, 0.0, 0.01, 0.02, 0.04, 0.05, 0.05, 0.04,
           0.03, 0.02, 0.01, 0.0, 0.0, 0.0, 0.0, 0.01, 0.01, 0.01,
           0.0, -0.01, -0.01, 0.02, 0.06, 0.08, 0.06, 0.03, 0.01, 0.01,
           0.02, 0.02, 0.03, 0.03, 0.03, 0.03, 0.03, 0.03, 0.03, 0.02,
           0.02, 0.02, 0.02, 0.02, 0.02, 0.02, 0.02, 0.02, 0.03, 0.05,
           0.04]
blue_22 = [0.005, 0.005, 0.005, 0.005, 0.0, 0.0, 0.0, -0.005, -0.005, -0.01,
           -0.01, -0.01, -0.01, -0.01, 0.0, 0.01, 0.02, 0.03, 0.04, 0.04,
           0.04, 0.03, 0.02, 0.01, 0.0, -0.01, -0.02, -0.03, -0.03, -0.03,
           -0.03, -0.02, -0.01, 0.0, 0.0, 0.01, 0.01, 0.01, 0.0, -0.01,
           -0.01, -0.01, -0.01, -0.02, -0.03, -0.03, -0.02, -0.01, 0.0, 0.0,
           -0.01, -0.01, -0.02, -0.02, -0.02, -0.02, -0.02, -0.02, -0.02, -0.02,
           -0.02, -0.01, -0.01, -0.01, 0.0, 0.0, 0.0, 0.0, 0.01, 0.02,
           0.02]
blue_23 = [0.05, 0.05, 0.045, 0.04, 0.035, 0.03, 0.025, 0.02, 0.015, 0.01,
           0.0, -0.005, -0.01, -0.01, -0.01, -0.01, -0.01, 0.0, 0.0, 0.01,
           0.01, 0.01, 0.0, -0.01, -0.02, -0.03, -0.04, -0.04, -0.04, -0.03,
           -0.02, -0.01, 0.0, 0.0, 0.01, 0.01, 0.01, 0.01, 0.01, 0.01,
           0.0, -0.01, -0.01, -0.01, 0.0, 0.0, 0.0, 0.0, 0.0, 0.01,
           0.02, 0.03, 0.04, 0.04, 0.05, 0.05, 0.05, 0.04, 0.04, 0.03,
           0.03, 0.03, 0.02, 0.02, 0.02, 0.02, 0.02, 0.02, 0.02, 0.03,
           0.02]
blue_24 = [-0.05, -0.05, -0.045, -0.045, -0.04, -0.035, -0.03, -0.03, -0.025, -0.02,
           -0.02, -0.02, -0.02, -0.02, -0.02, -0.02, -0.02, -0.02, -0.02, -0.01,
           -0.01, 0.0, 0.0, 0.0, 0.01, 0.02, 0.04, 0.06, 0.07, 0.07,
           0.06, 0.04, 0.02, 0.01, 0.0, 0.0, 0.0, -0.01, -0.01, -0.02,
           -0.02, -0.02, -0.02, -0.04, -0.07, -0.08, -0.07, -0.04, -0.01, 0.0,
           -0.02, -0.03, -0.04, -0.05, -0.06, -0.07, -0.07, -0.07, -0.07, -0.06,
           -0.06, -0.06, -0.06, -0.06, -0.06, -0.06, -0.05, -0.04, -0.06, -0.08,
           -0.07]

red_curves = [red_01, red_02, red_03, red_04, red_05, red_06, red_07,
              red_08, red_09, red_10, red_11, red_12, red_13, red_14,
              red_15, red_16, red_17, red_18, red_19, red_20, red_21,
              red_22, red_23, red_24, red_25, red_26, red_27, red_28,
              red_29, red_30, red_31, red_32, red_33, red_34]
blue_curves = [blue_01, blue_02, blue_03, blue_04, blue_05, blue_06,
               blue_07, blue_08, blue_09, blue_10, blue_11, blue_12,
               blue_13, blue_14, blue_15, blue_16, blue_17, blue_18,
               blue_19, blue_20, blue_21, blue_22, blue_23, blue_24]

# Interleave curves so blue and red overlap like the original plot order
order = []
for i in range(max(len(red_curves), len(blue_curves))):
    if i < len(blue_curves):
        order.append(("blue", i + 1, blue_curves[i]))
    if i < len(red_curves):
        order.append(("red", i + 1, red_curves[i]))

frames = []
palette = {}
for group, k, vals in order:
    name = f"{group}_{k:02d}"
    frames.append(pd.DataFrame({"Wavenumber": wavenumber,
                                "Absorbance": vals,
                                "curve": name}))
    palette[name] = "#0000ff" if group == "blue" else "#ff0000"
data = pd.concat(frames, ignore_index=True)

sns.set_style("ticks")
plt.rcParams["font.family"] = ["Liberation Sans", "DejaVu Sans"]
plt.rcParams["axes.unicode_minus"] = True

fig = plt.figure(figsize=(10.41, 6.75), dpi=100)
ax = fig.add_axes([0.1326, 0.2044, 0.854, 0.726])

sns.lineplot(data=data, x="Wavenumber", y="Absorbance", hue="curve",
             palette=palette, estimator=None, sort=False, legend=False,
             linewidth=0.9, ax=ax)

ax.set_xlim(795.2, 1505.6)
ax.set_ylim(-0.729, 0.633)

ax.xaxis.set_major_locator(MultipleLocator(100))
ax.xaxis.set_minor_locator(AutoMinorLocator(10))
ax.yaxis.set_major_locator(MultipleLocator(0.1))
ax.yaxis.set_minor_locator(AutoMinorLocator(6))
ax.yaxis.set_major_formatter(plt.FuncFormatter(lambda v, p: f"{v:.1f}".replace("-", "\u2212")))

ax.tick_params(axis="x", which="major", length=9, width=1.0, pad=14, labelsize=12.5, color="black")
ax.tick_params(axis="x", which="minor", length=4, width=1.0)
ax.tick_params(axis="y", which="major", length=14.5, width=1.0, pad=4, labelsize=12.5)
ax.tick_params(axis="y", which="minor", length=7, width=1.0)

for side in ["left", "right", "top", "bottom"]:
    ax.spines[side].set_visible(True)
    ax.spines[side].set_linewidth(2.4)
    ax.spines[side].set_color("black")

ax.set_xlabel("Wavenumber", fontsize=12.5, labelpad=17)
ax.set_ylabel("")
fig.text(12 / 1041, 1 - 24 / 675, "Absorbance", ha="left", va="center", fontsize=12.5)
fig.text(529 / 1041, 1 - 664 / 675,
         "blue\u2212\u2212\u2212>inner difference, red\u2212\u2212\u2212>intra difference",
         ha="center", va="center", fontsize=12.5)

fig.savefig("out.png", dpi=100, facecolor="white")
